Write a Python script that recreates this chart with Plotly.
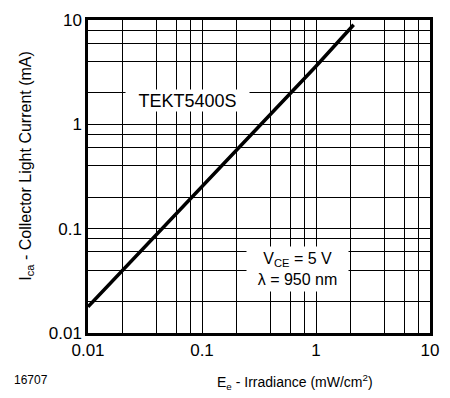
import plotly.graph_objects as go

# Data (log-log straight line)
irradiance = [0.01, 0.1, 1.0, 2.14]          # mW/cm2
collector_current = [0.0178, 0.25, 3.6, 9.0]   # mA

grid_vals = [0.01, 0.02, 0.04, 0.06, 0.08,
             0.1, 0.2, 0.4, 0.6, 0.8,
             1, 2, 4, 6, 8, 10]
decade_labels = {0.01: "0.01", 0.1: "0.1", 1: "1", 10: "10"}
tick_text = [decade_labels.get(v, "") for v in grid_vals]

FONT = "Liberation Sans, Arial, Helvetica, sans-serif"

fig = go.Figure()
fig.add_trace(go.Scatter(
    x=irradiance, y=collector_current, mode="lines",
    line=dict(color="black", width=3.5), showlegend=False, hoverinfo="skip"))

axis_common = dict(
    type="log", range=[-2, 1],
    tickmode="array", tickvals=grid_vals, ticktext=tick_text,
    showgrid=True, gridcolor="black", gridwidth=1,
    showline=True, linecolor="black", linewidth=2.5, mirror=True,
    ticks="", zeroline=False,
    tickfont=dict(family=FONT, size=17, color="black"),
)
fig.update_xaxes(**axis_common)
fig.update_yaxes(**axis_common)

fig.update_layout(
    width=450, height=398,
    margin=dict(l=88, r=11, t=15, b=65),
    paper_bgcolor="white", plot_bgcolor="white",
    font=dict(family=FONT, color="black"),
    annotations=[
        dict(text="TEKT5400S", xref="paper", yref="paper", x=0.2898, y=0.7415,
             xanchor="center", yanchor="middle", showarrow=False,
             bgcolor="white", width=123, height=21, borderpad=0,
             font=dict(family=FONT, size=18, color="black")),
        dict(text="V<sub>CE</sub> = 5 V<br>λ = 950 nm", xref="paper", yref="paper",
             x=0.6139, y=0.2042, xanchor="center", yanchor="middle", showarrow=False,
             bgcolor="white", width=101, height=44, borderpad=0, align="center",
             font=dict(family=FONT, size=16, color="black")),
        dict(text="E<sub>e</sub> - Irradiance (mW/cm<sup>2</sup>)", xref="paper", yref="paper",
             x=0.604, y=-0.156, xanchor="center", yanchor="middle", showarrow=False,
             font=dict(family=FONT, size=14, color="black")),
        dict(text="I<sub>ca</sub> - Collector Light Current (mA)", xref="paper", yref="paper",
             x=-0.1785, y=0.534, xanchor="center", yanchor="middle", showarrow=False,
             textangle=-90, font=dict(family=FONT, size=16, color="black")),
        dict(text="16707", xref="paper", yref="paper",
             x=(29 - 88) / 351.0, y=(333.3 - 381) / 318.0,
             xanchor="center", yanchor="middle", showarrow=False,
             font=dict(family=FONT, size=12, color="black")),
    ],
)

fig.write_html(
    "out.html",
    config={"displayModeBar": False},
    post_script="document.body.style.margin='0';document.body.style.overflow='hidden';",
)
